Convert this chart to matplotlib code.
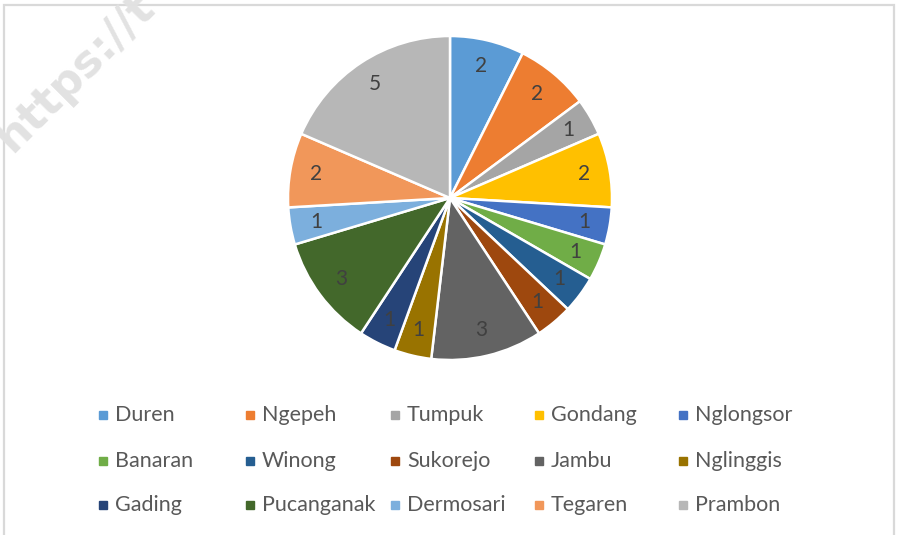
import matplotlib.pyplot as plt
from matplotlib.patches import Rectangle

# data
villages = ["Duren", "Ngepeh", "Tumpuk", "Gondang", "Nglongsor",
            "Banaran", "Winong", "Sukorejo", "Jambu", "Nglinggis",
            "Gading", "Pucanganak", "Dermosari", "Tegaren", "Prambon"]
counts = [2, 2, 1, 2, 1, 1, 1, 1, 3, 1, 1, 3, 1, 2, 5]

# excel office palette
colors = ["#5B9BD5", "#ED7D31", "#A5A5A5", "#FFC000", "#4472C4",
          "#70AD47", "#255E91", "#9E480E", "#636363", "#997300",
          "#264478", "#43682B", "#7CAFDD", "#F1975A", "#B7B7B7"]

W, H = 899, 535
fig = plt.figure(figsize=(W / 100, H / 100), dpi=100)
plt.rcParams['font.family'] = ['Lato', 'DejaVu Sans']

# chart frame (left, top, right edges only visible)
frame = Rectangle((4 / W, -0.1), (894 - 4) / W, 1.1 - 5 / H, transform=fig.transFigure,
                  fill=False, edgecolor="#d9d9d9", linewidth=1.6)
fig.patches.append(frame)

# pie axes: centre (450,198) px, radius 162 px
cx, cy, r = 450, 198, 162
ax = fig.add_axes([(cx - r) / W, (H - cy - r) / H, 2 * r / W, 2 * r / H])
total = sum(counts)
wedges, texts, autotexts = ax.pie(
    counts, colors=colors, startangle=90, counterclock=False, radius=1,
    autopct=lambda p: "%d" % round(p * total / 100), pctdistance=0.84,
    wedgeprops=dict(edgecolor="white", linewidth=1.8),
    textprops=dict(color="#404040", fontsize=15))
ax.set_xlim(-1, 1)
ax.set_ylim(-1, 1)
ax.set_aspect("auto")
ax.axis("off")

# legend, 5 fixed-width columns like excel
col_x = [103, 250, 395, 539, 683]
row_y = [415, 461, 505]
for i, (name, c) in enumerate(zip(villages, colors)):
    x = col_x[i % 5]
    y = row_y[i // 5]
    fig.patches.append(Rectangle(((x - 4) / W, (H - y - 4) / H), 8 / W, 8 / H,
                                 transform=fig.transFigure, color=c))
    fig.text((x + 12) / W, (H - y) / H, name, fontsize=15.5, color="#595959",
             va="center", ha="left")

# faint watermark in the corner
fig.text(-12 / W, (H - 160) / H, "https://t", fontsize=32, fontweight="bold",
         family="DejaVu Sans", color="#e2e2e2", rotation=45, ha="left", va="bottom")

fig.savefig("out.png", dpi=100, facecolor="white")
